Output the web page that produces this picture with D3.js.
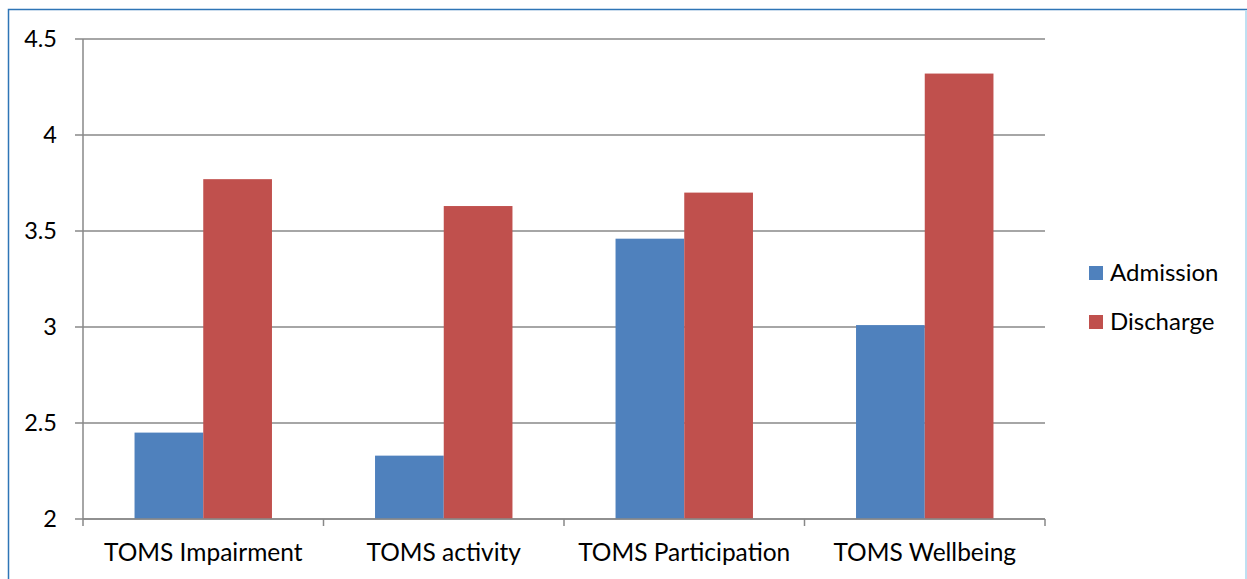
<!DOCTYPE html>
<html>
<head>
<meta charset="utf-8">
<script src="https://cdn.jsdelivr.net/npm/d3@7"></script>
<style>
  html, body { margin: 0; padding: 0; background: #fff; }
  svg { display: block; }
  text { font-family: Lato, "Open Sans", sans-serif; fill: #000; }
</style>
</head>
<body>
<svg id="chart" width="1247" height="579"></svg>
<script>
const categories = ["TOMS Impairment", "TOMS activity", "TOMS Participation", "TOMS Wellbeing"];
const seriesNames = ["Admission", "Discharge"];
const admission = [2.45, 2.33, 3.46, 3.01];
const discharge = [3.77, 3.63, 3.70, 4.32];
const yTicks = [2, 2.5, 3, 3.5, 4, 4.5];
const colors = ["#4F81BD", "#C0504D"];

const svg = d3.select("#chart");
const W = 1247, H = 579;

// outer frame
svg.append("rect").attr("x", 8.5).attr("y", 9.5).attr("width", W - 9).attr("height", H)
  .attr("fill", "none").attr("stroke", "#2E75B6").attr("stroke-width", 1.5);
svg.append("line").attr("x1", W - 1).attr("x2", W - 1).attr("y1", 10).attr("y2", H)
  .attr("stroke", "#BFE0F2").attr("stroke-width", 2);

const plot = { left: 83, right: 1045, top: 39, bottom: 519 };

const x0 = d3.scaleBand().domain(categories).range([plot.left, plot.right]).paddingInner(0).paddingOuter(0);
const y = d3.scaleLinear().domain([2, 4.5]).range([plot.bottom, plot.top]);

// gridlines
svg.append("g").selectAll("line").data(yTicks).join("line")
  .attr("x1", plot.left - 8).attr("x2", plot.right)
  .attr("y1", d => y(d)).attr("y2", d => y(d))
  .attr("stroke", "#888").attr("stroke-width", 1.5);

// bars: gap width 150% of bar width
const groupW = x0.bandwidth();
const barW = groupW / (2 + 1.5);
const series = [admission, discharge];
series.forEach((vals, si) => {
  svg.append("g").selectAll("rect").data(categories).join("rect")
    .attr("x", (c) => x0(c) + groupW / 2 - barW + si * barW)
    .attr("width", barW)
    .attr("y", (c, i) => y(vals[i]))
    .attr("height", (c, i) => y(2) - y(vals[i]))
    .attr("fill", colors[si]);
});

// value axis line
svg.append("line").attr("x1", plot.left).attr("x2", plot.left)
  .attr("y1", plot.top).attr("y2", plot.bottom)
  .attr("stroke", "#888").attr("stroke-width", 1.5);

// category axis line + ticks
svg.append("line").attr("x1", plot.left).attr("x2", plot.right)
  .attr("y1", plot.bottom).attr("y2", plot.bottom)
  .attr("stroke", "#888").attr("stroke-width", 1.5);
const boundaries = categories.map(c => x0(c)).concat([plot.right]);
svg.append("g").selectAll("line").data(boundaries).join("line")
  .attr("x1", d => d).attr("x2", d => d)
  .attr("y1", plot.bottom).attr("y2", plot.bottom + 7)
  .attr("stroke", "#888").attr("stroke-width", 1.5);

// y tick labels
svg.append("g").selectAll("text").data(yTicks).join("text")
  .attr("x", 57).attr("y", d => y(d))
  .attr("dy", "0.35em")
  .attr("text-anchor", "end")
  .attr("font-size", 23.5)
  .text(d => d3.format("")(d));

// category labels
svg.append("g").selectAll("text").data(categories).join("text")
  .attr("x", c => x0(c) + groupW / 2)
  .attr("y", 561)
  .attr("text-anchor", "middle")
  .attr("font-size", 24.5)
  .text(c => c);

// legend
const legend = svg.append("g");
seriesNames.forEach((name, i) => {
  const ly = 273 + i * 49;
  legend.append("rect").attr("x", 1089).attr("y", ly - 7).attr("width", 14).attr("height", 14)
    .attr("fill", colors[i]);
  legend.append("text").attr("x", 1110).attr("y", ly).attr("dy", "0.35em")
    .attr("font-size", 24).text(name);
});
</script>
</body>
</html>
